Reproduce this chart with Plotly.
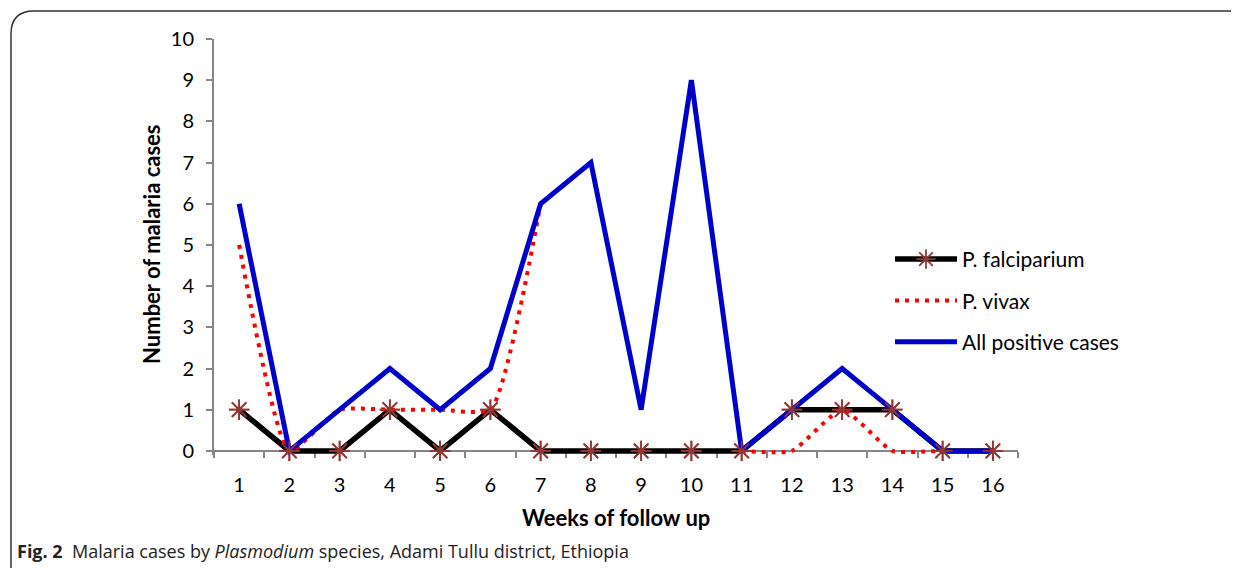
import plotly.graph_objects as go

weeks = list(range(1, 17))
week_labels = [str(w) for w in weeks]
falciparum = [1, 0, 0, 1, 0, 1, 0, 0, 0, 0, 0, 1, 1, 1, 0, 0]
vivax = [5, 0, 1, 1, 1, 1, 6, None, None, None, 0, 0, 1, 0, 0, 0]
all_positive = [6, 0, 1, 2, 1, 2, 6, 7, 1, 9, 0, 1, 2, 1, 0, 0]

OFF = 8  # page body margin
W, H = 1239, 568
YMIN, YMAX = -0.1, 10
L, R, T, B0 = 214, 1018, 39, 451      # B0 = pixel row of value 0
unit = (B0 - T) / YMAX
B = B0 - YMIN * unit                   # bottom of plotting area
pw, ph = R - L, B - T

def px(x):
    return (x - L) / pw

def py(y):
    return (B - y) / ph

FONT = "Lato"
AXIS_GRAY = "#868686"
BROWN = "#943634"
MARK = dict(symbol="asterisk-open", size=17, color=BROWN, line=dict(color=BROWN, width=1.8))

fig = go.Figure()

fig.add_trace(go.Scatter(
    x=weeks, y=falciparum, name="P. falciparium", mode="lines+markers",
    line=dict(color="black", width=5.5), marker=MARK, cliponaxis=False,
    legendgroup="a", legendrank=1,
))
fig.add_trace(go.Scatter(
    x=weeks, y=vivax, name="P. vivax", mode="lines", connectgaps=False,
    line=dict(color="#FF0000", width=4, dash="4px,6px", shape="spline", smoothing=0.5),
    legendgroup="b", legendrank=2,
))
fig.add_trace(go.Scatter(
    x=weeks, y=all_positive, name="All positive cases", mode="lines",
    line=dict(color="#0000CC", width=5),
    legendgroup="c", legendrank=3,
))
fig.add_trace(go.Scatter(
    x=weeks, y=falciparum, mode="markers", showlegend=False, hoverinfo="skip",
    marker=MARK, cliponaxis=False,
))

fig.update_layout(
    width=W - OFF, height=H - OFF,
    margin=dict(l=L - OFF, r=W - R, t=T - OFF, b=H - B),
    paper_bgcolor="white", plot_bgcolor="white",
    font=dict(family=FONT, size=20, color="black"),
    showlegend=True,
    legend=dict(
        x=px(890), y=py(239), xanchor="left", yanchor="top",
        font=dict(family=FONT, size=21, color="black"),
        itemwidth=62, tracegroupgap=11, traceorder="grouped",
        bgcolor="rgba(0,0,0,0)",
    ),
    xaxis=dict(
        range=[0.5, 16.5], tickvals=weeks, ticktext=week_labels,
        anchor="free", position=py(B0),
        ticks="", showgrid=False, zeroline=False, layer="below traces",
        showline=True, linecolor=AXIS_GRAY, linewidth=2,
        ticklabelstandoff=16,
        minor=dict(tickvals=[w + 0.5 for w in range(0, 17)], ticks="outside",
                   ticklen=6, tickcolor=AXIS_GRAY, tickwidth=2, showgrid=False),
        tickfont=dict(family=FONT, size=20, color="black"),
    ),
    yaxis=dict(
        range=[YMIN, YMAX], tickvals=list(range(0, 11)), ticks="outside", ticklen=6,
        tickcolor=AXIS_GRAY, tickwidth=2,
        showgrid=False, zeroline=False, layer="below traces",
        showline=True, linecolor=AXIS_GRAY, linewidth=2,
        ticklabelstandoff=8,
        tickfont=dict(family=FONT, size=20, color="black"),
    ),
    annotations=[
        dict(text="<b>Number of malaria cases</b>", textangle=-90, xref="paper", yref="paper",
             x=px(152), y=py((T + B0) / 2), xanchor="center", yanchor="middle", showarrow=False,
             font=dict(family=FONT, size=22, color="black")),
        dict(text="<b>Weeks of follow up</b>", xref="paper", yref="paper",
             x=0.5, y=py(518), xanchor="center", yanchor="middle", showarrow=False,
             font=dict(family=FONT, size=22, color="black")),
        dict(text="<b>Fig. 2</b>  Malaria cases by <i>Plasmodium</i> species, Adami Tullu district, Ethiopia",
             xref="paper", yref="paper", x=px(15), y=py(551), xanchor="left", yanchor="middle",
             showarrow=False, font=dict(family="Open Sans", size=18, color="#222222")),
    ],
    shapes=[
        dict(type="path", xref="paper", yref="paper",
             path=f"M {px(11)} {py(600)} L {px(11)} {py(34)} Q {px(11)} {py(11)} {px(34)} {py(11)} L {px(1260)} {py(11)}",
             line=dict(color="#333333", width=1.5)),
    ],
)

fig.write_html("out.html")
